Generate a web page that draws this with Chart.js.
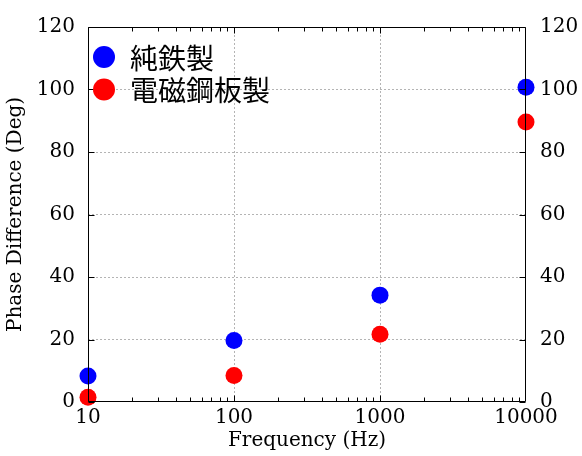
<!DOCTYPE html>
<html>
<head>
<meta charset="utf-8">
<script src="https://cdn.jsdelivr.net/npm/chart.js@4/dist/chart.umd.min.js"></script>
<style>
  html, body { margin: 0; padding: 0; background: #fff; }
  #wrap { width: 582px; height: 456px; }
</style>
</head>
<body>
<div id="wrap"><canvas id="c" width="582" height="456"></canvas></div>
<script>
// Measured phase difference versus excitation frequency
const frequencies = [10, 100, 1000, 10000];
const pureIron = [8.3, 19.7, 34.2, 100.7];
const electricalSteel = [1.5, 8.5, 21.7, 89.6];
const seriesLabels = ['純鉄製', '電磁鋼板製'];
const seriesColors = ['#0000ff', '#ff0000'];
const xTickValues = [10, 100, 1000, 10000];
const yTickValues = [0, 20, 40, 60, 80, 100, 120];

const serif = '"DejaVu Serif", serif';
const tickFont = { family: serif, size: 20 };
const titleFont = { family: serif, size: 20 };
const gridGray = '#b4b4b4';

function toPoints(ys) {
  return frequencies.map((f, i) => ({ x: f, y: ys[i] }));
}

// Frame drawn over the markers, inward tick marks on all four sides,
// and a legend placed inside the plot area
const frameTicks = {
  id: 'frameTicks',
  afterDraw(chart) {
    const { ctx, chartArea: a, scales } = chart;
    const xs = scales.x, ys = scales.y;
    ctx.save();
    ctx.strokeStyle = '#000';
    ctx.lineWidth = 1;
    ctx.beginPath();
    const L = Math.round(a.left) + 0.5, R = Math.round(a.right) - 0.5;
    const T = Math.round(a.top) + 0.5, B = Math.round(a.bottom) - 0.5;
    ctx.rect(L, T, R - L, B - T);
    for (let d = 10; d < 10000; d *= 10) {
      for (let m = 1; m <= 9; m++) {
        const v = d * m;
        const px = Math.round(xs.getPixelForValue(v)) + 0.5;
        const len = m === 1 ? 6 : 4;
        ctx.moveTo(px, B); ctx.lineTo(px, B - len);
        ctx.moveTo(px, T); ctx.lineTo(px, T + len);
      }
    }
    yTickValues.forEach(v => {
      const py = Math.round(ys.getPixelForValue(v)) + 0.5;
      ctx.moveTo(L, py); ctx.lineTo(L + 6, py);
      ctx.moveTo(R, py); ctx.lineTo(R - 6, py);
    });
    ctx.stroke();

    // legend
    const items = chart.data.datasets;
    ctx.font = '28px "Noto Sans CJK JP", sans-serif';
    ctx.textBaseline = 'middle';
    ctx.textAlign = 'left';
    items.forEach((ds, i) => {
      const cy = a.top + 30 + i * 32.5;
      const cx = a.left + 16;
      ctx.beginPath();
      ctx.fillStyle = ds.backgroundColor;
      ctx.arc(cx, cy, 11, 0, Math.PI * 2);
      ctx.fill();
      ctx.fillStyle = '#000';
      ctx.fillText(ds.label, a.left + 42, cy + 1);
    });
    ctx.restore();
  }
};

const markerStyle = { pointRadius: 8.5, pointHoverRadius: 8.5, borderWidth: 0, clip: false };

new Chart(document.getElementById('c'), {
  type: 'scatter',
  data: {
    datasets: [
      Object.assign({ label: seriesLabels[0], data: toPoints(pureIron), backgroundColor: seriesColors[0], borderColor: seriesColors[0] }, markerStyle),
      Object.assign({ label: seriesLabels[1], data: toPoints(electricalSteel), backgroundColor: seriesColors[1], borderColor: seriesColors[1] }, markerStyle)
    ]
  },
  options: {
    responsive: false,
    animation: false,
    layout: { padding: 0 },
    plugins: { legend: { display: false }, tooltip: { enabled: false } },
    scales: {
      x: {
        type: 'logarithmic',
        position: 'bottom',
        min: 10, max: 10000,
        afterBuildTicks(scale) { scale.ticks = xTickValues.map(v => ({ value: v, major: true })); },
        afterFit(scale) { scale.height = 54; },
        ticks: { font: tickFont, color: '#000', padding: 4, maxRotation: 0, autoSkip: false, callback: v => String(v) },
        grid: {
          drawTicks: false,
          color: c => (c.tick && (c.tick.value === 100 || c.tick.value === 1000)) ? gridGray : 'rgba(0,0,0,0)',
          lineWidth: 1
        },
        border: { display: false, dash: [2, 2] },
        title: { display: true, text: 'Frequency (Hz)', font: titleFont, color: '#000', padding: { top: 0, bottom: 3 } }
      },
      x2: {
        type: 'logarithmic',
        position: 'top',
        min: 10, max: 10000,
        afterFit(scale) { scale.height = 27; },
        ticks: { display: false },
        grid: { display: false, drawTicks: false },
        border: { display: false }
      },
      y: {
        position: 'left',
        min: 0, max: 120,
        afterBuildTicks(scale) { scale.ticks = yTickValues.map(v => ({ value: v })); },
        afterFit(scale) { scale.width = 88; },
        ticks: { font: tickFont, color: '#000', padding: 13 },
        grid: {
          drawTicks: false,
          color: c => (c.tick && c.tick.value > 0 && c.tick.value < 120) ? gridGray : 'rgba(0,0,0,0)',
          lineWidth: 1
        },
        border: { display: false, dash: [2, 2] },
        title: { display: true, text: 'Phase Difference (Deg)', font: titleFont, color: '#000', padding: { top: 4, bottom: 0 } }
      },
      y2: {
        position: 'right',
        min: 0, max: 120,
        afterBuildTicks(scale) { scale.ticks = yTickValues.map(v => ({ value: v })); },
        afterFit(scale) { scale.width = 56; },
        ticks: { font: tickFont, color: '#000', padding: 14 },
        grid: { display: false, drawTicks: false },
        border: { display: false }
      }
    }
  },
  plugins: [frameTicks]
});
</script>
</body>
</html>
